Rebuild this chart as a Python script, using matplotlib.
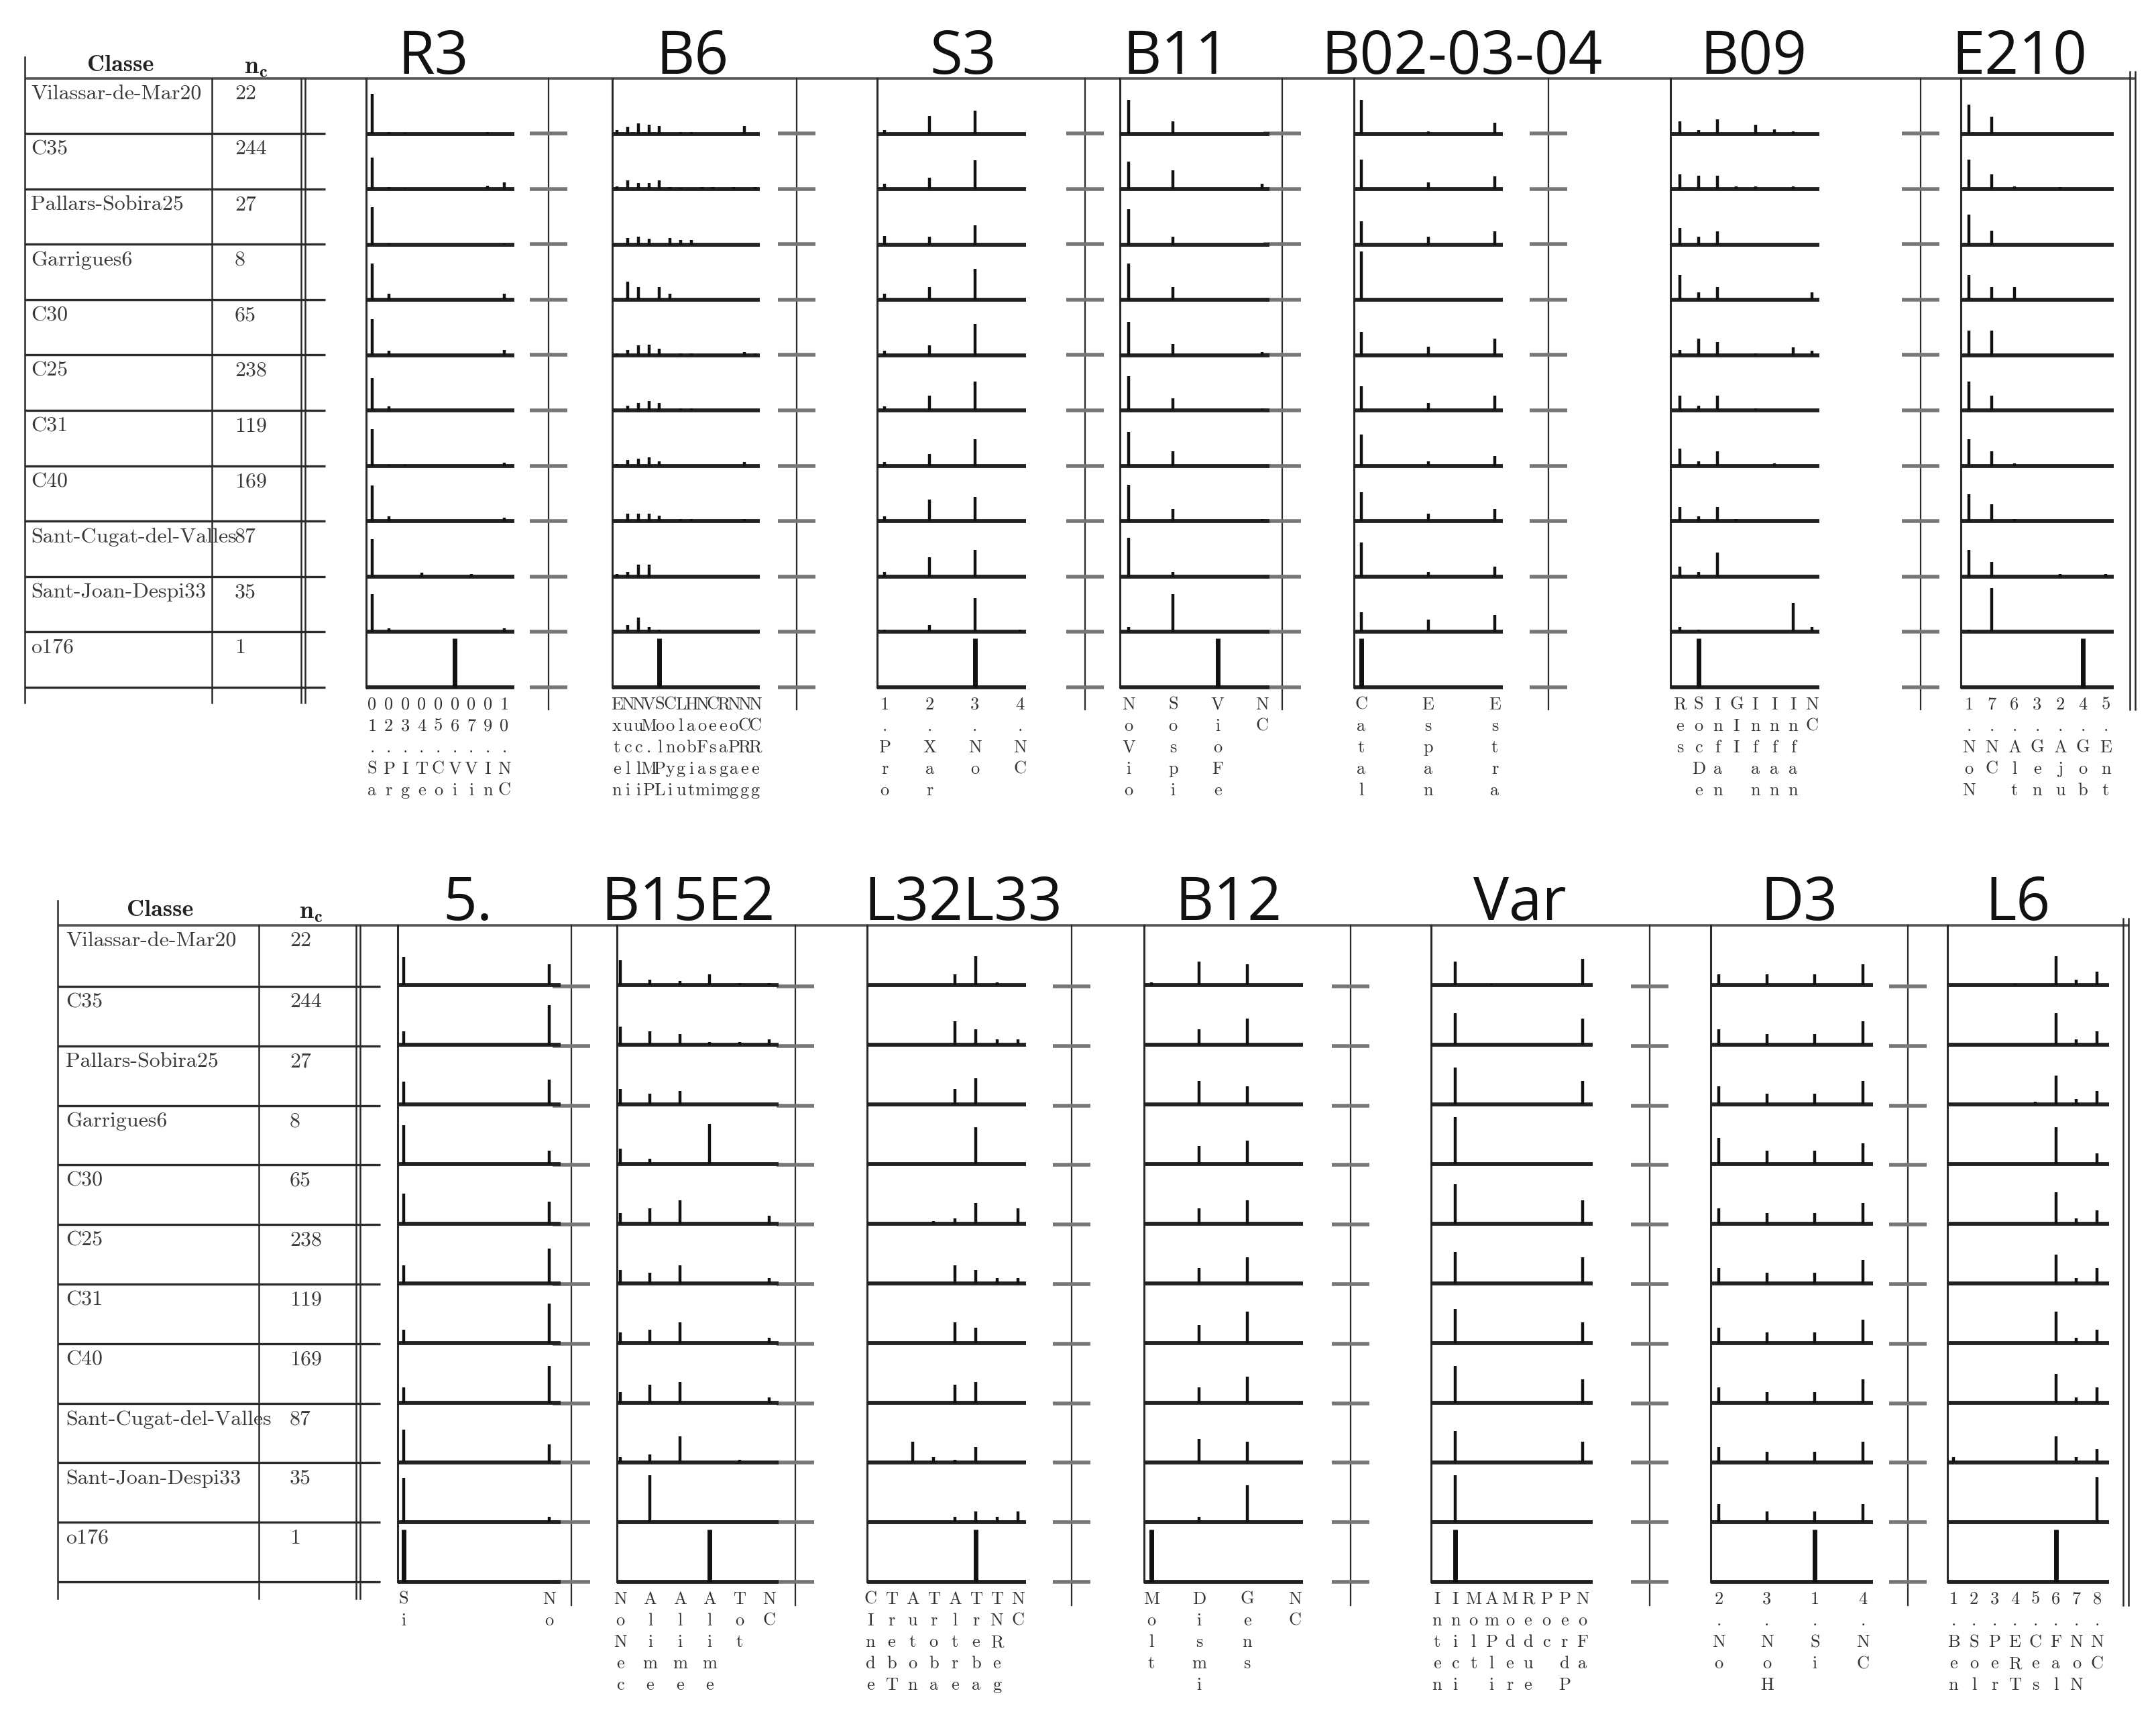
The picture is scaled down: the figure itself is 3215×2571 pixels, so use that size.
import matplotlib
matplotlib.use("Agg")
import matplotlib.pyplot as plt
import numpy as np

plt.rcParams['mathtext.fontset'] = 'cm'

W, H = 3216, 2571

# ---------------- data ----------------
classes = ["Vilassar-de-Mar20", "C35", "Pallars-Sobira25", "Garrigues6", "C30", "C25",
           "C31", "C40", "Sant-Cugat-del-Valles", "Sant-Joan-Despi33", "o176"]
n_c = ["22", "244", "27", "8", "65", "238", "119", "169", "87", "35", "1"]

# top panel
r3_labels = ["01.Sa", "02.Pr", "03.Ig", "04.Te", "05.Co", "06.Vi", "07.Vi", "09.In", "10.NC"]
r3_values = [
    [0.82, 0.03, 0.02, 0, 0, 0, 0, 0.03, 0],
    [0.65, 0.04, 0.02, 0, 0, 0, 0, 0.07, 0.14],
    [0.77, 0.02, 0, 0, 0, 0, 0, 0, 0.02],
    [0.74, 0.13, 0, 0, 0, 0, 0, 0, 0.13],
    [0.74, 0.09, 0, 0, 0, 0, 0, 0, 0.11],
    [0.66, 0.09, 0, 0, 0, 0, 0, 0, 0],
    [0.75, 0.03, 0.02, 0, 0, 0, 0, 0, 0.06],
    [0.73, 0.10, 0, 0, 0, 0, 0, 0, 0.08],
    [0.77, 0, 0, 0.08, 0, 0, 0.06, 0, 0],
    [0.78, 0.08, 0, 0, 0, 0, 0, 0, 0.08],
    [0, 0, 0, 0, 0, 1.0, 0, 0, 0],
]
b6_labels = ["Exten", "Nucli", "Nucli", "VM.MP", "SolPL", "Conyi", "Llogu", "Habit",
             "NoFam", "Cessi", "Reagm", "NoPag", "NCReg", "NCReg"]
b6_values = [
    [0.08, 0.14, 0.22, 0.18, 0.16, 0, 0.04, 0.04, 0, 0, 0, 0, 0.16, 0],
    [0.05, 0.18, 0.13, 0.12, 0.18, 0.04, 0.03, 0, 0.04, 0.04, 0, 0.04, 0, 0.04],
    [0, 0.13, 0.16, 0.12, 0, 0.13, 0.09, 0.09, 0, 0, 0, 0, 0, 0],
    [0, 0.38, 0.27, 0, 0.27, 0.13, 0, 0, 0, 0, 0, 0, 0, 0],
    [0.04, 0.11, 0.20, 0.22, 0.13, 0, 0.04, 0.04, 0, 0, 0, 0, 0.07, 0.04],
    [0, 0.10, 0.15, 0.20, 0.15, 0, 0.04, 0.04, 0, 0, 0, 0, 0, 0],
    [0.04, 0.12, 0.15, 0.18, 0.10, 0, 0, 0, 0, 0, 0, 0, 0.08, 0],
    [0, 0.15, 0.15, 0.15, 0.12, 0, 0.05, 0.05, 0, 0, 0, 0, 0.04, 0],
    [0.05, 0.10, 0.25, 0.25, 0, 0, 0, 0, 0, 0, 0, 0, 0, 0],
    [0, 0.15, 0.30, 0.10, 0.05, 0, 0, 0, 0, 0, 0, 0, 0, 0],
    [0, 0, 0, 0, 1.0, 0, 0, 0, 0, 0, 0, 0, 0, 0],
]
s3_labels = ["1.Pro", "2.Xar", "3.No", "4.NC"]
s3_values = [
    [0.08, 0.36, 0.47, 0], [0.11, 0.23, 0.60, 0], [0.18, 0.16, 0.40, 0],
    [0.13, 0.27, 0.63, 0], [0.09, 0.20, 0.65, 0], [0.08, 0.30, 0.60, 0],
    [0.08, 0.25, 0.55, 0], [0.10, 0.45, 0.50, 0], [0.10, 0.40, 0.55, 0],
    [0.05, 0.15, 0.70, 0.05], [0, 0, 1.0, 0],
]
b11_labels = ["NoVio", "Sospi", "VioFe", "NC"]
b11_values = [
    [0.69, 0.26, 0, 0], [0.56, 0.38, 0, 0.11], [0.72, 0.16, 0, 0],
    [0.75, 0.27, 0, 0], [0.69, 0.23, 0, 0.07], [0.70, 0.25, 0, 0.05],
    [0.70, 0.30, 0, 0], [0.75, 0.25, 0, 0.05], [0.80, 0.10, 0, 0],
    [0.10, 0.78, 0, 0], [0, 0, 1.0, 0],
]
b02_labels = ["Catal", "Espan", "Estra"]
b02_values = [
    [0.69, 0.05, 0.23], [0.61, 0.14, 0.26], [0.48, 0.16, 0.27], [0.99, 0, 0],
    [0.48, 0.18, 0.34], [0.50, 0.15, 0.30], [0.65, 0.10, 0.20], [0.60, 0.15, 0.25],
    [0.70, 0.10, 0.20], [0.40, 0.25, 0.35], [1.0, 0, 0],
]
b09_labels = ["Res", "SocDe", "Infan", "GII", "Infan", "Infan", "Infan", "NC"]
b09_values = [
    [0.26, 0.08, 0.30, 0, 0.18, 0.09, 0.05, 0],
    [0.31, 0.27, 0.27, 0.05, 0.05, 0, 0.05, 0],
    [0.34, 0.16, 0.27, 0, 0, 0, 0, 0],
    [0.51, 0.16, 0.27, 0, 0, 0, 0, 0.16],
    [0.11, 0.34, 0.27, 0, 0.04, 0, 0.16, 0.09],
    [0.30, 0.10, 0.30, 0, 0.05, 0, 0, 0],
    [0.35, 0.10, 0.30, 0, 0, 0.05, 0, 0],
    [0.30, 0.10, 0.30, 0.05, 0, 0, 0, 0],
    [0.20, 0.10, 0.50, 0, 0, 0, 0, 0],
    [0.10, 0.05, 0, 0, 0, 0, 0.60, 0.10],
    [0, 1.0, 0, 0, 0, 0, 0, 0],
]
e210_labels = ["1.NoN", "7.NC", "6.Alt", "3.Gen", "2.Aju", "4.Gob", "5.Ent"]
e210_values = [
    [0.60, 0.35, 0, 0, 0, 0, 0], [0.61, 0.31, 0.05, 0, 0.04, 0, 0],
    [0.61, 0.29, 0, 0, 0, 0, 0], [0.51, 0.27, 0.27, 0, 0, 0, 0],
    [0.50, 0.50, 0, 0, 0, 0, 0], [0.60, 0.30, 0, 0, 0, 0, 0],
    [0.55, 0.30, 0.05, 0, 0, 0, 0], [0.55, 0.35, 0.05, 0, 0, 0, 0],
    [0.55, 0.30, 0, 0, 0.05, 0, 0.05], [0.05, 0.90, 0, 0, 0, 0, 0],
    [0, 0, 0, 0, 0, 1.0, 0],
]

# bottom panel
v5_labels = ["Si", "No"]
v5_values = [
    [0.54, 0.40], [0.25, 0.75], [0.44, 0.47], [0.74, 0.26], [0.58, 0.42],
    [0.34, 0.66], [0.25, 0.75], [0.29, 0.70], [0.62, 0.35], [0.84, 0.10], [1.0, 0],
]
b15_labels = ["NoNec", "Alime", "Alime", "Alime", "Tot", "NC"]
b15_values = [
    [0.47, 0.10, 0.08, 0.20, 0.04, 0.04], [0.35, 0.25, 0.20, 0.05, 0.05, 0.10],
    [0.30, 0.20, 0.25, 0, 0, 0], [0.30, 0.10, 0, 0.76, 0, 0],
    [0.20, 0.30, 0.45, 0, 0, 0.15], [0.25, 0.20, 0.35, 0, 0, 0.10],
    [0.20, 0.25, 0.40, 0, 0, 0.10], [0.20, 0.35, 0.40, 0, 0, 0.10],
    [0.10, 0.15, 0.50, 0, 0.05, 0], [0, 0.90, 0, 0, 0, 0], [0, 0, 0, 1.0, 0, 0],
]
l32_labels = ["CInde", "TrebT", "Auton", "Troba", "Altre", "Treba", "TNReg", "NC"]
l32_values = [
    [0, 0, 0, 0, 0.20, 0.55, 0.05, 0], [0, 0, 0, 0, 0.45, 0.30, 0.10, 0.10],
    [0, 0, 0, 0, 0.30, 0.50, 0, 0], [0, 0, 0, 0, 0, 0.70, 0, 0],
    [0, 0, 0, 0.05, 0.10, 0.40, 0, 0.30], [0, 0, 0, 0, 0.35, 0.25, 0.10, 0.10],
    [0, 0, 0, 0, 0.40, 0.30, 0, 0], [0, 0, 0, 0, 0.35, 0.40, 0, 0],
    [0, 0, 0.40, 0.10, 0.05, 0.30, 0, 0], [0, 0, 0, 0, 0.10, 0.20, 0.10, 0.20],
    [0, 0, 0, 0, 0, 1.0, 0, 0],
]
b12_labels = ["Molt", "Dismi", "Gens", "NC"]
b12_values = [
    [0.05, 0.45, 0.40, 0], [0, 0.30, 0.50, 0], [0, 0.45, 0.35, 0], [0, 0.35, 0.45, 0],
    [0, 0.30, 0.45, 0], [0, 0.30, 0.50, 0], [0, 0.35, 0.60, 0], [0, 0.30, 0.50, 0],
    [0, 0.45, 0.40, 0], [0, 0.10, 0.70, 0], [1.0, 0, 0, 0],
]
var_labels = ["Inten", "Inici", "Molt", "AmPli", "Moder", "Redue", "Poc", "PerdP", "NoFa"]
var_values = [
    [0, 0.45, 0, 0.03, 0, 0, 0, 0, 0.50], [0, 0.60, 0, 0, 0, 0, 0, 0, 0.50],
    [0, 0.70, 0, 0, 0, 0, 0, 0, 0.45], [0, 0.90, 0, 0, 0, 0, 0, 0, 0],
    [0, 0.75, 0, 0, 0, 0, 0, 0, 0.45], [0, 0.60, 0, 0, 0, 0, 0, 0, 0.50],
    [0, 0.65, 0, 0, 0, 0, 0, 0, 0.40], [0, 0.70, 0, 0, 0, 0, 0, 0, 0.45],
    [0, 0.60, 0, 0, 0, 0, 0, 0, 0.40], [0, 0.90, 0, 0, 0, 0, 0, 0, 0],
    [0, 1.0, 0, 0, 0, 0, 0, 0, 0],
]
d3_labels = ["2.No", "3.NoH", "1.Si", "4.NC"]
d3_values = [
    [0.20, 0.20, 0.20, 0.40], [0.30, 0.20, 0.20, 0.45], [0.35, 0.20, 0.20, 0.45],
    [0.50, 0.25, 0.25, 0.40], [0.30, 0.20, 0.20, 0.40], [0.30, 0.20, 0.20, 0.45],
    [0.30, 0.20, 0.20, 0.45], [0.30, 0.20, 0.20, 0.45], [0.30, 0.20, 0.20, 0.40],
    [0.35, 0.20, 0.20, 0.35], [0, 0, 1.0, 0],
]
l6_labels = ["1.Ben", "2.Sol", "3.Per", "4.ERT", "5.Ces", "6.Fal", "7.NoN", "8.NC"]
l6_values = [
    [0, 0, 0, 0.03, 0, 0.55, 0.10, 0.25], [0, 0, 0, 0, 0, 0.60, 0.10, 0.25],
    [0, 0, 0, 0, 0.05, 0.55, 0.10, 0.25], [0, 0, 0, 0, 0, 0.70, 0, 0.20],
    [0, 0, 0, 0, 0, 0.60, 0.10, 0.25], [0, 0, 0, 0, 0, 0.55, 0.10, 0.30],
    [0, 0, 0, 0, 0, 0.60, 0.10, 0.25], [0, 0, 0, 0, 0, 0.55, 0.10, 0.30],
    [0.10, 0, 0, 0, 0, 0.50, 0.10, 0.25], [0, 0, 0, 0, 0, 0, 0, 0.85],
    [0, 0, 0, 0, 0, 1.0, 0, 0],
]

top_titles = ["R3", "B6", "S3", "B11", "B02-03-04", "B09", "E210"]
bot_titles = ["5.", "B15E2", "L32L33", "B12", "Var", "D3", "L6"]

# ---------------- layout (pixels) ----------------
top_panel = dict(
    line_y=117, base0=199, pitch=82.6, tab_left=37, tab_div=316, tab_dbl=(449, 455),
    tab_row_end=485, tab_top=85, tab_bot=1048, cross_bot=1058, right_dbl=(3176, 3184),
    title_y=110, class_x=46, nc_x=350, head_y=98,
    blocks=[  # axis_x, first_cat, last_cat, end_x, cross_x, title_x
        (546, 555, 752, 767, 818, 646),
        (913, 920, 1126, 1133, 1188, 1032),
        (1308, 1319, 1521, 1530, 1618, 1436),
        (1670, 1683, 1882, 1893, 1912, 1754),
        (2019, 2030, 2229, 2241, 2309, 2180),
        (2491, 2505, 2702, 2713, 2864, 2615),
        (2924, 2936, 3140, 3152, None, 3011),
    ],
    data=[(r3_labels, r3_values), (b6_labels, b6_values), (s3_labels, s3_values),
          (b11_labels, b11_values), (b02_labels, b02_values), (b09_labels, b09_values),
          (e210_labels, e210_values)],
    titles=top_titles,
)
bot_panel = dict(
    line_y=1380, base0=1471, pitch=88.8, tab_left=86, tab_div=386, tab_dbl=(531, 537),
    tab_row_end=567, tab_top=1343, tab_bot=2384, cross_bot=2394, right_dbl=(3166, 3174),
    title_y=1372, class_x=98, nc_x=432, head_y=1358,
    blocks=[
        (593, 602, 819, 836, 852, 697),
        (920, 925, 1147, 1161, 1186, 1026),
        (1293, 1298, 1518, 1530, 1598, 1436),
        (1706, 1717, 1931, 1943, 2014, 1832),
        (2134, 2143, 2360, 2375, 2460, 2266),
        (2551, 2563, 2778, 2793, 2845, 2683),
        (2904, 2913, 3127, 3145, None, 3009),
    ],
    data=[(v5_labels, v5_values), (b15_labels, b15_values), (l32_labels, l32_values),
          (b12_labels, b12_values), (var_labels, var_values), (d3_labels, d3_values),
          (l6_labels, l6_values)],
    titles=bot_titles,
)

fig = plt.figure(figsize=(W / 100, H / 100), dpi=100)
fig.patch.set_facecolor("white")
ov = fig.add_axes([0, 0, 1, 1])
ov.set_xlim(0, W)
ov.set_ylim(H, 0)
ov.axis("off")

LINE = "#2a2a2a"
SERIF = ["cmr10", "Liberation Serif"]
SERIF_B = ["cmb10", "Liberation Serif"]
BAR_H = 0.88
NROW = len(classes)


def draw_panel(P):
    bases = [P["base0"] + i * P["pitch"] for i in range(NROW)]
    last = bases[-1]
    # top rule
    ov.plot([P["tab_left"], P["right_dbl"][1]], [P["line_y"], P["line_y"]],
            color="#555555", lw=2.6, solid_capstyle="butt")
    # table
    ov.plot([P["tab_left"]] * 2, [P["tab_top"], P["tab_bot"]], color=LINE, lw=1.8)
    ov.plot([P["tab_div"]] * 2, [P["line_y"], P["tab_bot"]], color=LINE, lw=1.8)
    for xd in P["tab_dbl"]:
        ov.plot([xd] * 2, [P["line_y"], P["tab_bot"]], color=LINE, lw=1.8)
    for b in bases:
        ov.plot([P["tab_left"], P["tab_row_end"]], [b, b], color=LINE, lw=2.4,
                solid_capstyle="butt")
    ov.text((P["tab_left"] + P["tab_div"]) / 2 + 3, P["head_y"], "Classe",
            fontsize=26, family=SERIF_B, ha="center", va="center",
            color="#222222")
    ov.text(P["nc_x"] + 32, P["head_y"] + 2, r"$\mathbf{n_c}$", fontsize=27,
            ha="center", va="center", color="#222222")
    tops = [P["line_y"]] + bases[:-1]
    for i in range(NROW):
        ov.text(P["class_x"], tops[i] + 10, classes[i], fontsize=23, family=SERIF,
                ha="left", va="top", color="#3a3a3a")
        ov.text(P["nc_x"], tops[i] + 10, n_c[i], fontsize=23, family=SERIF,
                ha="left", va="top", color="#3a3a3a")
    # right double rule
    for xd in P["right_dbl"]:
        ov.plot([xd] * 2, [P["line_y"] - 10, P["cross_bot"]], color=LINE, lw=1.8)

    for (ax_x, c0, c1, end_x, cross_x, tx), (labels, values), title in zip(
            P["blocks"], P["data"], P["titles"]):
        n = len(labels)
        sp = (c1 - c0) / (n - 1)
        x_lo = -(c0 - ax_x) / sp
        x_hi = (n - 1) + (end_x - c1) / sp
        ax = fig.add_axes([ax_x / W, 1 - last / H, (end_x - ax_x) / W,
                           (last - P["line_y"]) / H])
        ax.set_xlim(x_lo, x_hi)
        ax.set_ylim(NROW, 0)
        ax.axis("off")
        ax.patch.set_alpha(0)
        ax.axvline(x_lo, color=LINE, lw=2.2, clip_on=False)
        ax.hlines(np.arange(1, NROW + 1), x_lo, x_hi, color="#222222", lw=4.2,
                  capstyle="butt", clip_on=False)
        for r, row in enumerate(values):
            for c, v in enumerate(row):
                if v > 0:
                    ax.vlines(c, r + 1 - v * BAR_H, r + 1, color="#111111",
                              lw=5.0 if r == NROW - 1 else 3.2, clip_on=False)
        # stacked tick labels
        for c, lab in enumerate(labels):
            for k, ch in enumerate(lab):
                ax.text(c, NROW + (26 + k * 32) / P["pitch"], ch, fontsize=19,
                        family=SERIF, ha="center", va="center", color="#333333",
                        clip_on=False)
        # cross rule with stubs
        if cross_x is not None:
            ov.plot([cross_x] * 2, [P["line_y"], P["cross_bot"]], color=LINE, lw=1.6)
            for b in bases:
                ov.plot([cross_x - 28, cross_x + 28], [b, b], color="#777777", lw=4.0,
                        solid_capstyle="butt")
        ov.text(tx, P["title_y"], title, fontsize=64, family="Open Sans",
                ha="center", va="baseline", color="#111111")


draw_panel(top_panel)
draw_panel(bot_panel)

fig.savefig("out.png", dpi=100, facecolor="white")
